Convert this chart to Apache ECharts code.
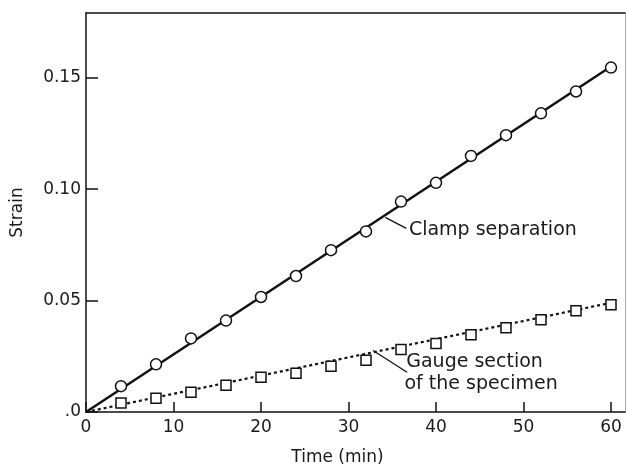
<!DOCTYPE html>
<html>
<head>
<meta charset="utf-8">
<script src="https://cdn.jsdelivr.net/npm/echarts@6/dist/echarts.min.js"></script>
<style>html,body{margin:0;padding:0;background:#fff}#c{width:627px;height:471px}</style>
</head>
<body>
<div id="c"></div>
<script>
var timeMin = [4, 8, 12, 16, 20, 24, 28, 32, 36, 40, 44, 48, 52, 56, 60];
var clampStrain = [0.0116, 0.0214, 0.033, 0.041, 0.0516, 0.061, 0.0726, 0.081, 0.0944, 0.1028, 0.1149, 0.1242, 0.134, 0.1438, 0.1545];
var gaugeStrain = [0.004, 0.0062, 0.0089, 0.012, 0.0156, 0.0174, 0.0205, 0.0232, 0.028, 0.0307, 0.0347, 0.0378, 0.0414, 0.0454, 0.0481];
var clampFitX = [0, 60];
var clampFitY = [0, 0.155];
var gaugeFitX = [0, 60];
var gaugeFitY = [0, 0.049];
var xTickValues = [0, 10, 20, 30, 40, 50, 60];
var xTickLabels = ['0', '10', '20', '30', '40', '50', '60'];
var yTickValues = [0, 0.05, 0.10, 0.15];
var yTickLabels = ['.0', '0.05', '0.10', '0.15'];
var clampLabel = 'Clamp separation';
var gaugeLabel1 = 'Gauge section';
var gaugeLabel2 = 'of the specimen';
var clampLeader = [[34.2, 0.0873], [36.6, 0.0824]];
var clampTextPos = [36.9, 0.0815];
var gaugeLeader = [[32.8, 0.0276], [36.7, 0.0178]];
var gaugeTextPos1 = [36.6, 0.0223];
var gaugeTextPos2 = [36.4, 0.0125];

function zip(a, b) { return a.map(function (v, i) { return [v, b[i]]; }); }
function labelFor(vals, labs) {
  return function (v) {
    for (var i = 0; i < vals.length; i++) if (Math.abs(vals[i] - v) < 1e-6) return labs[i];
    return '';
  };
}
var FONT = '"DejaVu Sans", "Noto Sans", sans-serif';
var TC = '#1a1a1a';
var chart = echarts.init(document.getElementById('c'), null, {renderer: 'canvas'});
var txt = function (coord, s) {
  return {coord: coord, value: s, symbol: 'rect', symbolSize: 0,
    label: {show: true, position: 'right', distance: 0, formatter: s, color: TC, fontSize: 19, fontFamily: FONT}};
};
chart.setOption({
  animation: false,
  backgroundColor: '#fff',
  grid: {left: 86, top: 13, right: 2, bottom: 56, containLabel: false},
  xAxis: [{
    type: 'value', min: 0, max: 61.6, interval: 10,
    name: 'Time (min)', nameLocation: 'middle', nameGap: 37,
    nameTextStyle: {color: TC, fontSize: 17, fontFamily: FONT, padding: [0, 36, 0, 0]},
    axisLine: {show: true, lineStyle: {color: '#111', width: 1.5}},
    axisTick: {show: true, inside: true, length: 10, lineStyle: {color: '#111', width: 1.5}},
    axisLabel: {color: TC, fontSize: 17, fontFamily: FONT, margin: 7, showMaxLabel: false,
      formatter: labelFor(xTickValues, xTickLabels)},
    splitLine: {show: false}
  }, {
    type: 'value', position: 'top', min: 0, max: 61.6,
    axisLine: {show: true, onZero: false, lineStyle: {color: '#111', width: 1.5}},
    axisTick: {show: false}, axisLabel: {show: false}, splitLine: {show: false}
  }],
  yAxis: [{
    type: 'value', min: 0, max: 0.179, interval: 0.05,
    name: 'Strain', nameLocation: 'middle', nameGap: 60,
    nameTextStyle: {color: TC, fontSize: 17, fontFamily: FONT},
    axisLine: {show: true, lineStyle: {color: '#111', width: 1.5}},
    axisTick: {show: true, inside: true, length: 12, lineStyle: {color: '#111', width: 1.5}},
    axisLabel: {color: TC, fontSize: 17, fontFamily: FONT, margin: 5, showMaxLabel: false,
      formatter: labelFor(yTickValues, yTickLabels)},
    splitLine: {show: false}
  }, {
    type: 'value', position: 'right', min: 0, max: 0.179,
    axisLine: {show: true, onZero: false, lineStyle: {color: '#aaa', width: 1}},
    axisTick: {show: false}, axisLabel: {show: false}, splitLine: {show: false}
  }],
  series: [{
    type: 'line', data: zip(clampFitX, clampFitY), symbol: 'none', silent: true,
    lineStyle: {color: '#111', width: 2.5}, z: 2,
    markLine: {silent: true, symbol: 'none', label: {show: false},
      lineStyle: {color: '#111', width: 1.3, type: 'solid'},
      data: [[{coord: clampLeader[0]}, {coord: clampLeader[1]}], [{coord: gaugeLeader[0]}, {coord: gaugeLeader[1]}]]},
    markPoint: {silent: true, data: [txt(clampTextPos, clampLabel), txt(gaugeTextPos1, gaugeLabel1), txt(gaugeTextPos2, gaugeLabel2)]}
  }, {
    type: 'line', data: zip(gaugeFitX, gaugeFitY), symbol: 'none', silent: true,
    lineStyle: {color: '#111', width: 2.2, type: [3, 3]}, z: 2
  }, {
    type: 'scatter', data: zip(timeMin, clampStrain), symbol: 'circle', symbolSize: 11,
    itemStyle: {color: '#fff', borderColor: '#111', borderWidth: 1.5, opacity: 1}, z: 3
  }, {
    type: 'scatter', data: zip(timeMin, gaugeStrain), symbol: 'rect', symbolSize: 10,
    itemStyle: {color: '#fff', borderColor: '#111', borderWidth: 1.5, opacity: 1}, z: 3
  }]
});
</script>
</body>
</html>
